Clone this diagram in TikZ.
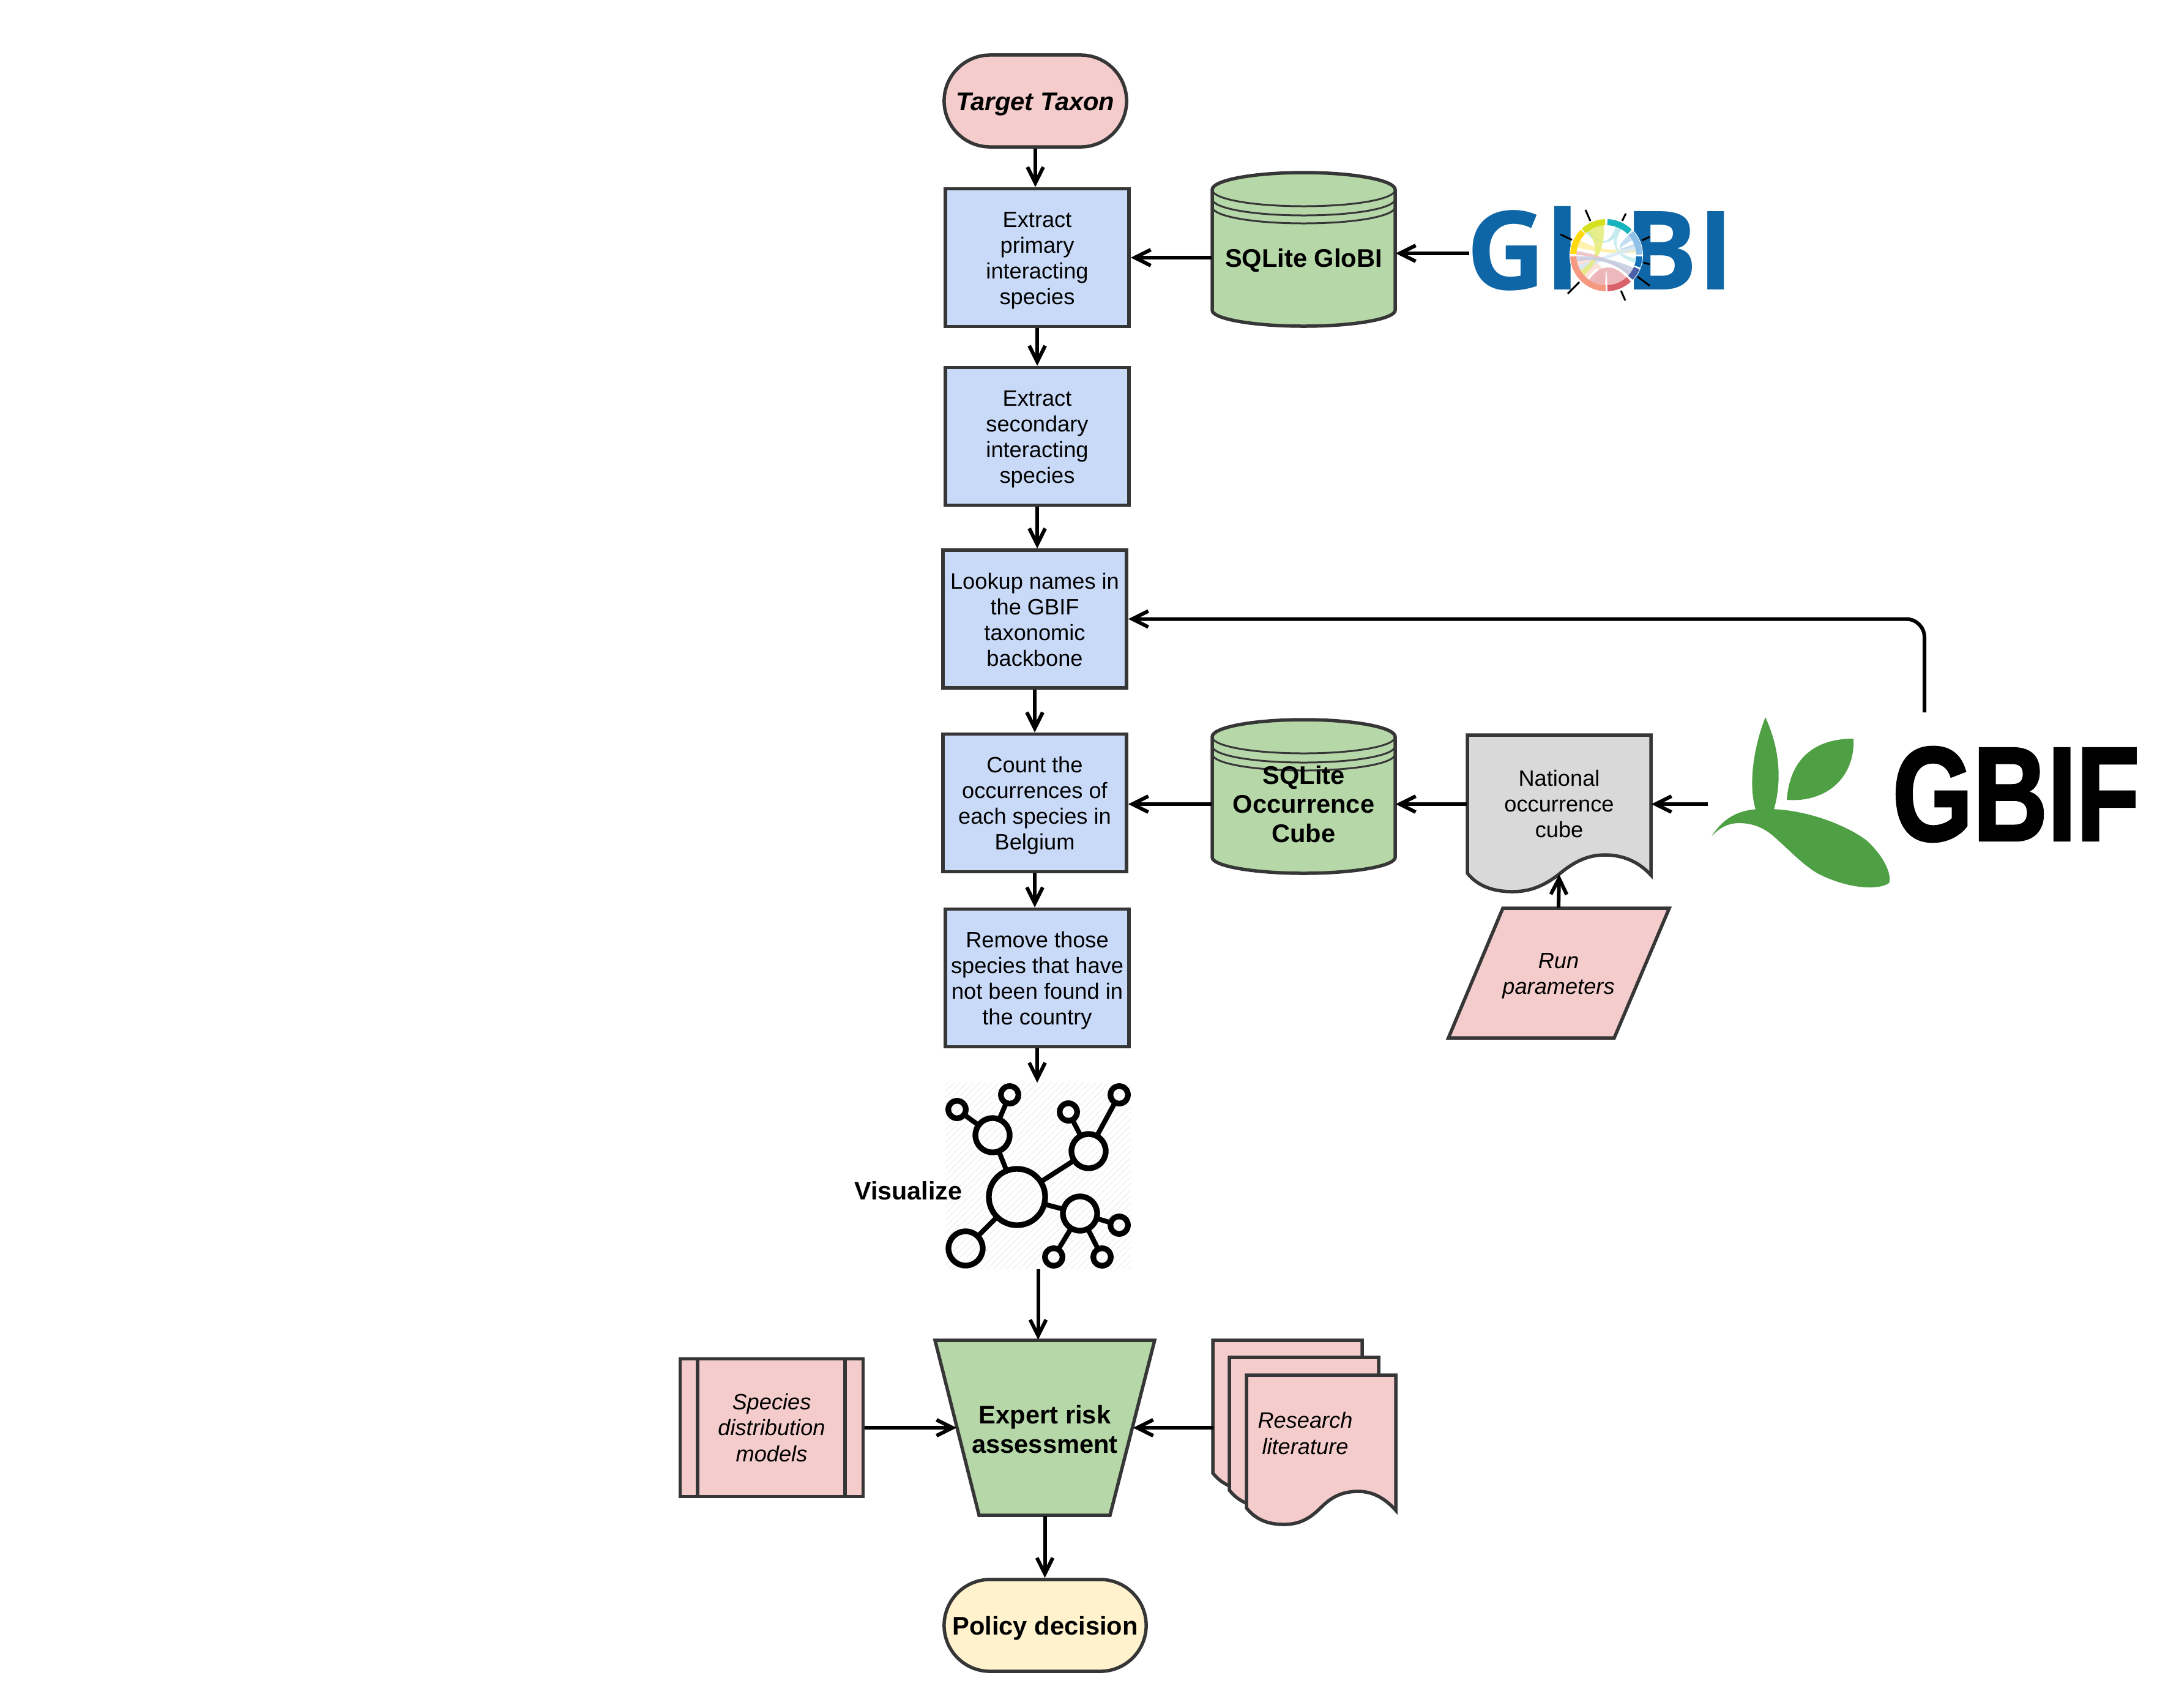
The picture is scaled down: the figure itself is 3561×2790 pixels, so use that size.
\documentclass[tikz,border=0pt]{standalone}
\usepackage{fontspec}
\usepackage{graphicx}
\usepackage{xcolor}
\setmainfont{Liberation Sans}
\newfontfamily\logofont{Open Sans}
\newfontfamily\gbiffont[BoldFeatures={FakeBold=2}]{Liberation Sans}
\usetikzlibrary{arrows.meta,shapes.misc,patterns}

\definecolor{edgegray}{HTML}{363636}
\definecolor{pinkfill}{HTML}{F4CCCC}
\definecolor{bluefill}{HTML}{C9DAF8}
\definecolor{greenfill}{HTML}{B6D7A8}
\definecolor{grayfill}{HTML}{D9D9D9}
\definecolor{creamfill}{HTML}{FFF2CC}
\definecolor{globiblue}{HTML}{0F66A6}
\definecolor{gbifgreen}{HTML}{4F9F45}
\definecolor{ringa}{HTML}{17B3BE}
\definecolor{ringb}{HTML}{8FC0E8}
\definecolor{ringc}{HTML}{1270B8}
\definecolor{ringd}{HTML}{4B5FA6}
\definecolor{ringe}{HTML}{D9616A}
\definecolor{ringf}{HTML}{F59A80}
\definecolor{ringg}{HTML}{FFD90F}
\definecolor{ringh}{HTML}{D5E01F}

\tikzset{
    shapeline/.style={draw=edgegray, line width=0.055cm},
    normaltext/.style={font=\fontsize{10.3}{11.95}\selectfont, align=center, inner sep=0pt},
    boldtext/.style={font=\fontsize{11.85}{13.5}\selectfont\bfseries, align=center, inner sep=0pt},
    slanttext/.style={font=\fontsize{10.3}{11.95}\selectfont\itshape, align=center, inner sep=0pt},
    pushdown/.style={execute at begin node={\rule{0pt}{#1}}},
    procbox/.style={shapeline, normaltext, fill=bluefill, minimum width=3cm, minimum height=2.25cm},
    termnode/.style={shapeline, boldtext, rounded rectangle, minimum height=1.5cm},
    flowarrow/.style={-{Straight Barb[length=0.26cm,width=0.26cm]}, line width=0.06cm, black},
    hubcircle/.style={circle, draw=black, line width=0.093cm, inner sep=0pt, outer sep=0pt, minimum size=0.92cm},
    midcircle/.style={circle, draw=black, line width=0.093cm, inner sep=0pt, outer sep=0pt, minimum size=0.56cm},
    tipcircle/.style={circle, draw=black, line width=0.093cm, inner sep=0pt, outer sep=0pt, minimum size=0.285cm},
    netedge/.style={draw=black, line width=0.08cm}
}

\begin{document}
\begin{tikzpicture}[x=0.01cm, y=-0.01cm]
    \useasboundingbox (0,0) rectangle (3561,2790);

    % Main column
    \node[termnode, fill=pinkfill, minimum width=2.98cm, font=\fontsize{11.85}{13.5}\selectfont\bfseries\itshape, pushdown=11.3pt] (target) at (1692,165) {Target Taxon};
    \node[procbox, pushdown=45.9pt] (primary) at (1695,421) {Extract\\primary\\interacting\\species};
    \node[procbox, pushdown=45.9pt] (secondary) at (1695,713) {Extract\\secondary\\interacting\\species};
    \node[procbox, pushdown=43.95pt] (lookup) at (1691,1011.5) {Lookup names in\\the GBIF\\taxonomic\\backbone};
    \node[procbox, pushdown=45.9pt] (count) at (1691,1312) {Count the\\occurrences of\\each species in\\Belgium};
    \node[procbox, pushdown=45.4pt] (remove) at (1695,1598) {Remove those\\species that have\\not been found in\\the country};

    % Data stores
    \foreach \ty in {281,1175} {
        \begin{scope}[shift={(1981,\ty)}]
            \path[shapeline, fill=greenfill] (0,29) .. controls (0,13.5) and (67,1) .. (149.5,1) .. controls (232,1) and (299,13.5) .. (299,29) -- (299,226) .. controls (299,240) and (232,252) .. (149.5,252) .. controls (67,252) and (0,240) .. (0,226) -- cycle;
            \foreach \dy in {0,15,28} {
                \draw[edgegray, line width=0.03cm] (0,29+\dy) .. controls (0,44.5+\dy) and (67,56+\dy) .. (149.5,56+\dy) .. controls (232,56+\dy) and (299,44.5+\dy) .. (299,29+\dy);
            }
        \end{scope}
    }
    \node[boldtext, minimum width=2.99cm, pushdown=11.3pt] (sqlglobi) at (2130.5,421) {SQLite GloBI};
    \node[boldtext, minimum width=2.99cm] (sqlcube) at (2130.5,1314) {SQLite\\Occurrence\\Cube};

    % GloBI logo
    \node[anchor=base west, inner sep=0pt, text=globiblue, font=\logofont\fontsize{51}{51}\selectfont\bfseries] (globigl) at (2396,473) {Gl};
    \node[anchor=base east, inner sep=0pt, text=globiblue, font=\logofont\fontsize{51}{51}\selectfont\bfseries] (globibi) at (2835,473) {BI};
    \foreach \xa/\ya/\xb/\yb in {2591/343/2599/361,2657/349/2651/361,2696/387/2683/393,2696/432/2686/429,2696/467/2676/452,2656/491/2649/475,2562/480/2581/461,2550/383/2569/392} {
        \draw[black, line width=0.03cm] (\xa,\ya) -- (\xb,\yb);
    }
    \begin{scope}[shift={(2625,417)}, y=0.01cm]
        \fill[white] (0,0) circle (60);
        \foreach \col/\a/\b/\c/\d in {ringa!30/60/72/122/132,ringb!60/10/22/30/42,ringg!38/150/165/365/375,ringa!25/-15/-5/60/72,ringf!35/185/230/245/268,ringb!35/200/215/368/378,ringh!60/95/128/210/222,ringe!52/235/268/272/312,ringe!42/172/180/318/325,ringd!32/182/192/318/335} {
            \fill[\col, opacity=0.85] (\a:49) arc[start angle=\a, end angle=\b, radius=49] .. controls (\b:18) and (\c:18) .. (\c:49) arc[start angle=\c, end angle=\d, radius=49] .. controls (\d:18) and (\a:18) .. cycle;
        }
        \foreach \col/\a/\b in {ringa/88/45,ringb/42/1,ringc/-2/-20,ringd/-23/-43,ringe/-47/-88,ringf/-91/-178,ringg/178/135,ringh/133/92} {
            \draw[\col, line width=0.1cm] (\a:54) arc[start angle=\a, end angle=\b, radius=54];
        }
    \end{scope}

    % National cube and run parameters
    \path[shapeline, fill=grayfill] (2398,1201) -- (2698,1201) -- (2698,1430) .. controls (2678,1408) and (2652,1397) .. (2623,1397) .. controls (2592,1397) and (2570,1410) .. (2546,1430) .. controls (2522,1448) and (2500,1457) .. (2472,1457) .. controls (2440,1457) and (2415,1448) .. (2398,1427) -- cycle;
    \node[normaltext, minimum width=3cm, minimum height=2.28cm] (ncube) at (2548,1314) {National\\occurrence\\cube};
    \path[shapeline, fill=pinkfill] (2456,1484) -- (2728,1484) -- (2638,1696) -- (2367,1696) -- cycle;
    \node[slanttext, minimum height=2.22cm] (runpar) at (2547,1595) {Run\\parameters};

    % GBIF logo
    \fill[gbifgreen] (2885,1172) .. controls (2868,1215) and (2855,1280) .. (2870,1326) -- (2898,1326) .. controls (2915,1270) and (2905,1215) .. (2885,1172) -- cycle;
    \fill[gbifgreen] (3029,1207) .. controls (2965,1207) and (2925,1240) .. (2920,1307) .. controls (2985,1312) and (3032,1270) .. (3029,1207) -- cycle;
    \fill[gbifgreen] (2797,1367) .. controls (2815,1338) and (2840,1322) .. (2880,1322) .. controls (2950,1320) and (3020,1350) .. (3050,1373) .. controls (3080,1400) and (3092,1430) .. (3087,1443) .. controls (3070,1455) and (3020,1453) .. (2970,1427) .. controls (2945,1412) and (2925,1390) .. (2899,1367) .. controls (2880,1350) and (2860,1345) .. (2842,1345) .. controls (2825,1345) and (2810,1352) .. (2797,1367) -- cycle;
    \node[anchor=base west, inner sep=0pt, font=\gbiffont\fontsize{62}{62}\selectfont\bfseries] (gbif) at (3092,1373) {\scalebox{0.775}[1]{GBIF}};

    % Network icon
    \node[pattern=north east lines, pattern color=black!6, minimum width=3.03cm, minimum height=3.03cm, inner sep=0pt] (visual) at (1696.5,1921.5) {};
    \node[hubcircle] (hub) at (1662,1956) {};
    \node[midcircle] (midnw) at (1622,1855) {};
    \node[midcircle] (midne) at (1779,1881) {};
    \node[midcircle] (midse) at (1765,1983) {};
    \node[midcircle] (midsw) at (1578,2040) {};
    \node[tipcircle] (tipa) at (1564,1813) {};
    \node[tipcircle] (tipb) at (1650,1789) {};
    \node[tipcircle] (tipc) at (1746,1817) {};
    \node[tipcircle] (tipd) at (1829,1789) {};
    \node[tipcircle] (tipe) at (1829,2002) {};
    \node[tipcircle] (tipf) at (1801,2054) {};
    \node[tipcircle] (tipg) at (1722,2054) {};
    \foreach \from/\to in {hub/midnw,hub/midne,hub/midse,hub/midsw,midnw/tipa,midnw/tipb,midne/tipc,midne/tipd,midse/tipe,midse/tipf,midse/tipg} {
        \draw[netedge] (\from) -- (\to);
    }
    \node[boldtext, font=\fontsize{11.75}{13.5}\selectfont\bfseries, anchor=east] (vislabel) at (1573,1946) {Visualize};

    % Expert step
    \path[shapeline, fill=greenfill] (1528,2190) -- (1887,2190) -- (1814,2476) -- (1600,2476) -- cycle;
    \node[boldtext, minimum width=2.87cm, minimum height=2.86cm, pushdown=23.5pt] (expert) at (1707.5,2333) {Expert risk\\assessment};
    \node[termnode, fill=creamfill, minimum width=3.3cm, pushdown=11pt] (policy) at (1708,2656) {Policy decision};

    % Species models
    \node[shapeline, normaltext, font=\fontsize{10.3}{11.95}\selectfont\itshape, fill=pinkfill, minimum width=2.99cm, minimum height=2.25cm] (species) at (1261,2333) {Species\\distribution\\models};
    \draw[shapeline] (1140,2220.5) -- (1140,2445.5);
    \draw[shapeline] (1381,2220.5) -- (1381,2445.5);

    % Research literature
    \foreach \dx/\dy in {1982/2190,2009/2218,2037/2247} {
        \begin{scope}[shift={(\dx,\dy)}]
            \path[shapeline, fill=pinkfill] (0,0) -- (244,0) -- (244,221) .. controls (228,203) and (208,190) .. (183,190) .. controls (155,190) and (138,200) .. (121,217) .. controls (102,236) and (85,244) .. (61,244) .. controls (35,244) and (15,236) .. (0,217) -- cycle;
        \end{scope}
    }
    \node[slanttext, minimum width=2.99cm] (research) at (2133,2342) {Research\\literature};

    % Logo end points
    \coordinate (globiend) at (2401,414);
    \coordinate (cubeend) at (2791,1314);
    \coordinate (gbifend) at (3145,1164);

    % Connections
    \draw[flowarrow] (target.south) -- (target.south |- primary.north);
    \draw[flowarrow] (primary) -- (secondary);
    \draw[flowarrow] (secondary.south) -- (secondary.south |- lookup.north);
    \draw[flowarrow] (lookup.south) -- (lookup.south |- count.north);
    \draw[flowarrow] (count.south) -- (count.south |- remove.north);
    \draw[flowarrow] (remove.south) -- (remove.south |- visual.north);
    \draw[flowarrow] (visual.south) -- (visual.south |- expert.north);
    \draw[flowarrow] (expert.south) -- (expert.south |- policy.north);
    \draw[flowarrow] (sqlglobi.west) -- (primary.east);
    \draw[flowarrow] (globiend) -- (globiend -| sqlglobi.east);
    \draw[flowarrow] (sqlcube.west) -- (sqlcube.west -| count.east);
    \draw[flowarrow] (ncube.west) -- (sqlcube.east);
    \draw[flowarrow] (cubeend) -- (cubeend -| ncube.east);
    \draw[flowarrow] (runpar.north) -- (ncube.south);
    \draw[flowarrow, rounded corners=0.3cm] (gbifend) |- (lookup.east);
    \draw[flowarrow] (species.east) -- (expert.west);
    \draw[flowarrow] (expert.east -| research.west) -- (expert.east);
\end{tikzpicture}
\end{document}
